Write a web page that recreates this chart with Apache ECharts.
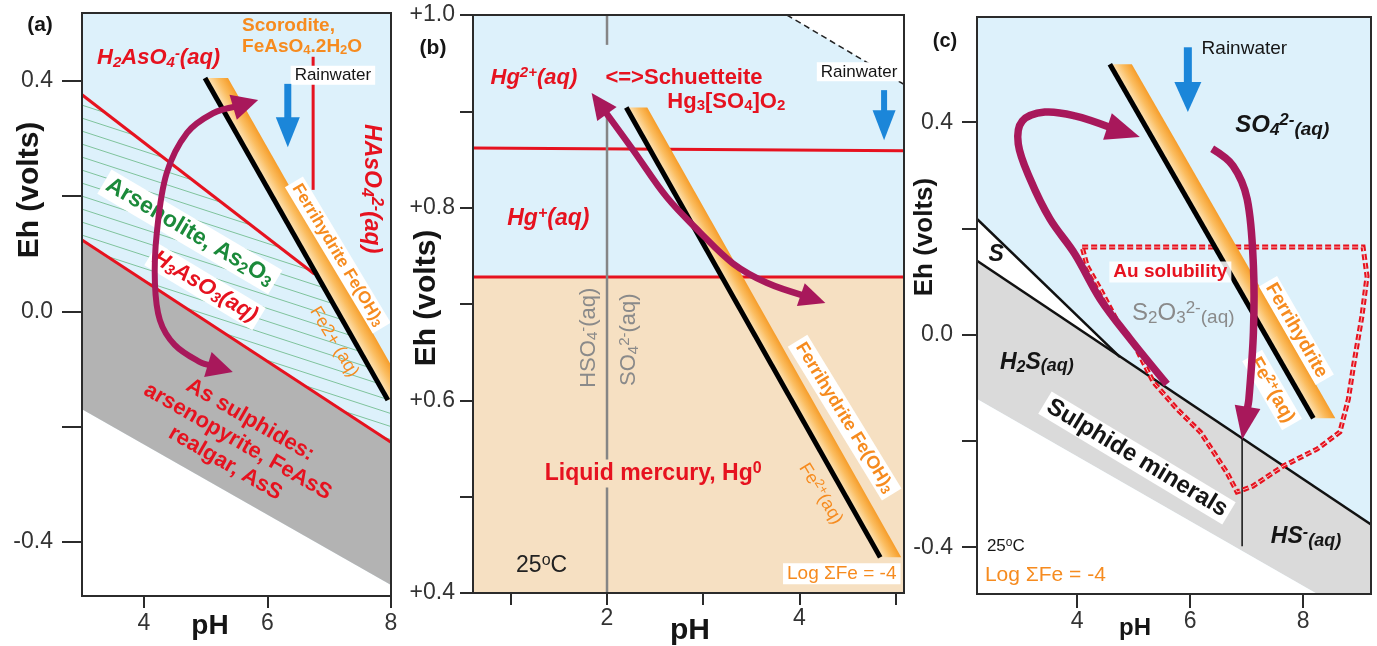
<!DOCTYPE html>
<html>
<head>
<meta charset="utf-8">
<title>Eh-pH diagrams</title>
<script src="https://cdn.jsdelivr.net/npm/echarts@6.0.0/dist/echarts.min.js"></script>
<style>
  html, body { margin: 0; padding: 0; background: #fff; }
  #chart { width: 1377px; height: 646px; }
</style>
</head>
<body>
<div id="chart"></div>
<script>
const FONT = 'Liberation Sans, Arial, sans-serif';

// ---------------- panel (a): arsenic ----------------
const aXRange = [3, 8];
const aYRange = [-0.494, 0.518];
const aXTicks = [4, 6, 8];
const aYTicks = [-0.4, -0.2, 0, 0.2, 0.4];
const aYLabels = [-0.4, 0, 0.4];
const aWhite = [[3, -0.17], [8, -0.475], [8, -0.494], [3, -0.494]];
const aGrey = [[3, 0.124], [8, -0.227], [8, -0.475], [3, -0.17]];
const aHatch = [[3, 0.376], [6.76, 0.065], [8, -0.163], [8, -0.227], [3, 0.124]];
const aRedUpper = [[3, 0.376], [6.76, 0.065]];
const aRedLower = [[3, 0.124], [8, -0.227]];
const aRedVert = [[6.74, 0.442], [6.74, 0.211]];
const aFeLine = [[4.99, 0.405], [7.95, -0.154]];
const aCycle = [[5.85, 0.367], [5.44, 0.355], [5.12, 0.344], [4.70, 0.310], [4.37, 0.240], [4.21, 0.136],
  [4.18, 0.049], [4.26, -0.015], [4.50, -0.058], [4.91, -0.088], [5.44, -0.105]];
const aRain = [[6.33, 0.395], [6.33, 0.285]];
const aLabels = [
  ['{n|H}{b|2}{n|AsO}{b|4}{p|-}{n|(aq)}', 4.24, 0.44],
  ['{n|Scorodite,}\n{n|FeAsO}{b|4}{n|.2H}{b|2}{n|O}', 5.59, 0.478],
  ['{n|Rainwater}', 7.06, 0.41],
  ['{n|HAsO}{b|4}{p|2-}{n|(aq)}', 7.69, 0.213],
  ['{n|Arsenolite, As}{b|2}{n|O}{b|3}', 4.745, 0.138],
  ['{n|H}{b|3}{n|AsO}{b|3}{n|(aq)}', 4.99, 0.043],
  ['{n|As sulphides:}\n{n|arsenopyrite, FeAsS}\n{n|realgar, AsS}', 5.52, -0.226],
  ['{n|Ferrihydrite Fe(OH)}{b|3}', 7.14, 0.098],
  ['{n|Fe2+ (aq)}', 7.08, -0.053]
];

// ---------------- panel (b): mercury ----------------
const bXRange = [0.607, 5.087];
const bYRange = [0.4, 1.0];
const bXTicks = [1, 2, 3, 4, 5];
const bXLabels = [2, 4];
const bYTicks = [0.4, 0.5, 0.6, 0.7, 0.8, 0.9, 1.0];
const bYLabels = [0.4, 0.6, 0.8, 1.0];
const bTan = [[0.607, 0.4], [5.087, 0.4], [5.087, 0.728], [0.607, 0.728]];
const bWhite = [[3.87, 1.0], [5.087, 0.928], [5.087, 1.0]];
const bO2Line = [[3.87, 1.0], [5.087, 0.928]];
const bRedUpper = [[0.607, 0.862], [5.087, 0.859]];
const bRedLower = [[0.607, 0.728], [5.087, 0.728]];
const bSulfTop = [[2, 1.0], [2, 0.969]];
const bSulfLow = [[2, 0.9], [2, 0.4]];
const bFeLine = [[2.20, 0.904], [4.84, 0.437]];
const bCycle = [[1.84, 0.919], [1.93, 0.901], [2.27, 0.860], [2.62, 0.811], [2.97, 0.774], [3.31, 0.742],
  [3.66, 0.722], [4.01, 0.707], [4.27, 0.701]];
const bRain = [[4.88, 0.922], [4.88, 0.870]];
const bLabels = [
  ['{n|Hg}{p|2+}{n|(aq)}', 1.24, 0.935],
  ['{n|<=>Schuetteite}', 2.80, 0.935],
  ['{n|Hg}{b|3}{n|[SO}{b|4}{n|]O}{b|2}', 3.24, 0.910],
  ['{n|Rainwater}', 4.62, 0.941],
  ['{n|Hg}{p|+}{n|(aq)}', 1.39, 0.789],
  ['{n|HSO}{b|4}{p|-}{n|(aq)}', 1.81, 0.665],
  ['{n|SO}{b|4}{p|2-}{n|(aq)}', 2.23, 0.663],
  ['{n|Liquid mercury, Hg}{p|0}', 2.48, 0.524],
  ['{n|25}{p|o}{n|C}', 1.32, 0.428],
  ['{n|Log ΣFe = -4}', 4.44, 0.420],
  ['{n|Ferrihydrite Fe(OH)}{b|3}', 4.47, 0.582],
  ['{n|Fe}{p|2+}{n|(aq)}', 4.22, 0.503]
];

// ---------------- panel (c): gold / sulphur ----------------
const cXRange = [2.23, 9.2];
const cYRange = [-0.488, 0.598];
const cXTicks = [4, 6, 8];
const cYTicks = [-0.4, -0.2, 0, 0.2, 0.4];
const cYLabels = [-0.4, 0, 0.4];
const cSulfur = [[2.23, 0.218], [4.76, -0.042], [2.23, 0.139]];
const cGrey = [[2.23, 0.139], [9.2, -0.357], [9.2, -0.488], [8.25, -0.488], [2.23, -0.121]];
const cWhite = [[2.23, -0.121], [8.25, -0.488], [2.23, -0.488]];
const cSLine = [[2.23, 0.218], [4.76, -0.042]];
const cH2SLine = [[2.23, 0.139], [9.2, -0.357]];
const cHSLine = [[6.92, -0.195], [6.92, -0.398]];
const cFeLine = [[4.58, 0.509], [8.18, -0.157]];
const cGold = [[4.09, 0.165], [9.06, 0.165], [9.13, 0.110], [9.04, 0.035], [8.89, -0.059], [8.80, -0.121],
  [8.65, -0.183], [8.25, -0.215], [7.65, -0.247], [7.11, -0.285], [6.83, -0.296], [6.65, -0.259],
  [6.18, -0.183], [5.77, -0.140], [5.35, -0.089], [4.99, -0.014], [4.76, 0.016], [4.41, 0.086], [4.18, 0.129]];
const cLoop = [[5.59, -0.093], [4.94, -0.008], [4.41, 0.067], [3.96, 0.152], [3.52, 0.218], [3.17, 0.293],
  [2.96, 0.359], [3.03, 0.402], [3.43, 0.419], [3.96, 0.412], [4.50, 0.391], [5.11, 0.372]];
const cDown = [[6.39, 0.350], [6.76, 0.318], [7.01, 0.255], [7.12, 0.129], [7.12, 0.005], [7.04, -0.121], [6.92, -0.197]];
const cRain = [[5.96, 0.541], [5.96, 0.419]];
const cLabels = [
  ['{n|Rainwater}', 6.96, 0.539],
  ['{n|SO}{b|4}{p|2-}{q|(aq)}', 7.63, 0.394],
  ['{n|S}', 2.57, 0.150],
  ['{n|Au solubility}', 5.65, 0.118],
  ['{n|S}{b|2}{n|O}{b|3}{p|2-}{q|(aq)}', 5.88, 0.040],
  ['{n|H}{b|2}{n|S}{q|(aq)}', 3.29, -0.052],
  ['{n|Sulphide minerals}', 5.06, -0.232],
  ['{n|HS}{p|-}{q|(aq)}', 8.05, -0.381],
  ['{n|25}{p|o}{n|C}', 2.74, -0.398],
  ['{n|Log ΣFe = -4}', 2.37, -0.453],
  ['{n|Ferrihydrite}', 7.88, 0.008],
  ['{n|Fe}{p|2+}{n|(aq)}', 7.45, -0.104]
];

// ---------------- styling ----------------
const RED = '#e6121f', ORANGE = '#f68b1f', GREEN = '#1b8a3a', MAG = '#a8185b', BLUE = '#1b86d9';
const SKY = '#ddf1fb', TAN = '#f6e0c2', GREYTXT = '#8a8a8a', INK = '#151515';
const BAND = [{offset: 0, color: '#fde8c2'}, {offset: 0.55, color: '#fbbd60'}, {offset: 1, color: '#f69d2a'}];

const aStyle = [
  {size: 22, color: RED, bold: 1, italic: 1},
  {size: 19, color: ORANGE, bold: 1, align: 'left', lh: 21},
  {size: 17, color: INK, bg: '#fff'},
  {size: 23, color: RED, bold: 1, italic: 1, rot: -90},
  {size: 23, color: GREEN, bold: 1, rot: -30.5, bg: '#fff'},
  {size: 22, color: RED, bold: 1, italic: 1, rot: -31, bg: '#fff'},
  {size: 22, color: RED, bold: 1, rot: -30, lh: 25},
  {size: 17, color: ORANGE, bold: 1, rot: -59, bg: '#fff'},
  {size: 18, color: ORANGE, rot: -59}
];
const bStyle = [
  {size: 22, color: RED, bold: 1, italic: 1},
  {size: 22, color: RED, bold: 1},
  {size: 22, color: RED, bold: 1},
  {size: 17, color: INK, bg: '#fff'},
  {size: 23, color: RED, bold: 1, italic: 1},
  {size: 22, color: GREYTXT, rot: 90},
  {size: 22, color: GREYTXT, rot: 90},
  {size: 23, color: RED, bold: 1, bg: TAN},
  {size: 23, color: '#222'},
  {size: 19, color: ORANGE, bg: '#fff'},
  {size: 18, color: ORANGE, bold: 1, rot: -58.5, bg: '#fff'},
  {size: 18, color: ORANGE, rot: -58.5}
];
const cStyle = [
  {size: 19, color: INK},
  {size: 24, color: INK, bold: 1, italic: 1},
  {size: 23, color: INK, bold: 1, italic: 1},
  {size: 19, color: RED, bold: 1, bg: 'rgba(255,255,255,0.85)'},
  {size: 24, color: GREYTXT},
  {size: 23, color: INK, bold: 1, italic: 1},
  {size: 24, color: INK, bold: 1, rot: -31, bg: '#fff'},
  {size: 23, color: INK, bold: 1, italic: 1},
  {size: 17, color: INK},
  {size: 21, color: ORANGE, align: 'left'},
  {size: 19, color: ORANGE, bold: 1, rot: -60, bg: '#fff'},
  {size: 19, color: ORANGE, bold: 1, rot: -60, bg: '#fff'}
];

// green hatch tile for the arsenolite field
const hatch = (function () {
  const c = document.createElement('canvas');
  c.width = 80; c.height = 13;
  const g = c.getContext('2d');
  g.strokeStyle = '#7fc39c';
  g.lineWidth = 1;
  for (let k = -2; k <= 1; k++) {
    g.beginPath(); g.moveTo(0, k * 13 + 0.5); g.lineTo(80, k * 13 + 26.5); g.stroke();
  }
  return c;
})();

// ---------------- drawing helpers ----------------
function rectOf(xr, yr) { return [[xr[0], yr[0]], [xr[1], yr[0]], [xr[1], yr[1]], [xr[0], yr[1]]]; }
function poly(api, pts, style) {
  return {type: 'polygon', shape: {points: pts.map(p => api.coord(p))}, style: style};
}
function line(api, pts, color, w, dash) {
  return {type: 'polyline', shape: {points: pts.map(p => api.coord(p))},
    style: {stroke: color, lineWidth: w, fill: null, lineDash: dash || null}};
}
function band(api, seg, w) {
  const p0 = api.coord(seg[0]), p1 = api.coord(seg[1]);
  const dx = p1[0] - p0[0], dy = p1[1] - p0[1], L = Math.hypot(dx, dy);
  const nx = dy / L, ny = -dx / L, d = w * dy / L;
  const grad = new echarts.graphic.LinearGradient(p0[0], p0[1], p0[0] + nx * d, p0[1] + ny * d, BAND, true);
  return [
    {type: 'polygon', shape: {points: [p0, [p0[0] + w, p0[1]], [p1[0] + w, p1[1]], p1]}, style: {fill: grad}},
    {type: 'line', shape: {x1: p0[0], y1: p0[1], x2: p1[0], y2: p1[1]}, style: {stroke: '#000', lineWidth: 5}}
  ];
}
function headAt(P, len, half) {
  const tip = P[P.length - 1];
  let i = P.length - 2;
  while (i > 0 && Math.hypot(P[i][0] - tip[0], P[i][1] - tip[1]) < len * 1.2) i--;
  const ref = P[i];
  const dx = tip[0] - ref[0], dy = tip[1] - ref[1], d = Math.hypot(dx, dy);
  const ux = dx / d, uy = dy / d;
  const bx = tip[0] - ux * len, by = tip[1] - uy * len;
  return {
    pts: P.slice(0, i + 1).concat([[bx + ux * 3, by + uy * 3]]),
    head: {type: 'polygon', shape: {points: [tip, [bx - uy * half, by + ux * half], [bx + uy * half, by - ux * half]]},
      style: {fill: MAG}}
  };
}
function curveArrow(api, data, o) {
  let P = data.map(p => api.coord(p));
  const out = [];
  if (o.end) { const r = headAt(P, o.len, o.half); P = r.pts; out.push(r.head); }
  if (o.start) { const r = headAt(P.slice().reverse(), o.len, o.half); P = r.pts.reverse(); out.push(r.head); }
  out.unshift({type: 'polyline', shape: {points: P, smooth: 0.35},
    style: {stroke: MAG, lineWidth: o.w, fill: null, lineCap: 'butt'}});
  return out;
}
function rainArrow(api, seg, shaft, headW, headL) {
  const a = api.coord(seg[0]), b = api.coord(seg[1]);
  const x = a[0];
  return [
    {type: 'rect', shape: {x: x - shaft / 2, y: a[1], width: shaft, height: b[1] - headL - a[1] + 1}, style: {fill: BLUE}},
    {type: 'polygon', shape: {points: [[x - headW / 2, b[1] - headL], [x + headW / 2, b[1] - headL], [x, b[1]]]},
      style: {fill: BLUE}}
  ];
}
function richFor(s) {
  const base = {fontFamily: FONT, fontWeight: s.bold ? 'bold' : 'normal', fontStyle: s.italic ? 'italic' : 'normal', fill: s.color};
  const sm = Math.round(s.size * 0.7), sh = Math.round(s.size * 0.42);
  const n = Object.assign({fontSize: s.size}, base);
  if (s.lh) n.lineHeight = s.lh;
  return {
    n: n,
    b: Object.assign({fontSize: sm, padding: [sh, 0, 0, 0]}, base),
    p: Object.assign({fontSize: sm, padding: [0, 0, sh, 0]}, base),
    q: Object.assign({fontSize: Math.round(s.size * 0.8), padding: [Math.round(s.size * 0.32), 0, 0, 0]}, base)
  };
}
function labels(api, list, styles) {
  return list.map((lab, i) => {
    const s = styles[i];
    const p = api.coord([lab[1], lab[2]]);
    const st = {text: lab[0], rich: richFor(s), align: s.align || 'center', verticalAlign: 'middle',
      textAlign: s.align || 'center', textVerticalAlign: 'middle'};
    if (s.bg) { st.backgroundColor = s.bg; st.padding = [1, 4, 1, 4]; }
    return {type: 'text', x: p[0], y: p[1], rotation: (s.rot || 0) * Math.PI / 180, style: st};
  });
}

// ---------------- panels ----------------
function renderA(params, api) {
  let k = [];
  k.push(poly(api, rectOf(aXRange, aYRange), {fill: SKY}));
  k.push(poly(api, aHatch, {fill: {image: hatch, repeat: 'repeat'}}));
  k.push(poly(api, aWhite, {fill: '#fff'}));
  k.push(poly(api, aGrey, {fill: '#b3b3b3'}));
  k.push(line(api, aRedUpper, RED, 3));
  k.push(line(api, aRedLower, RED, 3));
  k.push(line(api, aRedVert, RED, 3));
  k = k.concat(band(api, aFeLine, 23));
  k = k.concat(labels(api, aLabels, aStyle));
  k = k.concat(curveArrow(api, aCycle, {start: true, end: true, len: 26, half: 13, w: 6}));
  k = k.concat(rainArrow(api, aRain, 7, 24, 30));
  return {type: 'group', children: k};
}
function renderB(params, api) {
  let k = [];
  k.push(poly(api, rectOf(bXRange, bYRange), {fill: SKY}));
  k.push(poly(api, bTan, {fill: TAN}));
  k.push(poly(api, bWhite, {fill: '#fff'}));
  k.push(line(api, bO2Line, '#222', 1.5, [6, 4]));
  k.push(line(api, bRedUpper, RED, 3));
  k.push(line(api, bRedLower, RED, 3));
  k.push(line(api, bSulfTop, '#858585', 2.5));
  k.push(line(api, bSulfLow, '#858585', 2.5));
  k = k.concat(band(api, bFeLine, 21));
  k = k.concat(labels(api, bLabels, bStyle));
  k = k.concat(curveArrow(api, bCycle, {start: true, end: true, len: 26, half: 12, w: 6.5}));
  k = k.concat(rainArrow(api, bRain, 6, 23, 30));
  return {type: 'group', children: k};
}
function renderC(params, api) {
  let k = [];
  k.push(poly(api, rectOf(cXRange, cYRange), {fill: SKY}));
  k.push(poly(api, cSulfur, {fill: '#fff'}));
  k.push(poly(api, cGrey, {fill: '#dadada'}));
  k.push(poly(api, cWhite, {fill: '#fff'}));
  k.push(line(api, cSLine, '#111', 2.5));
  k.push(line(api, cH2SLine, '#111', 2.5));
  k.push(line(api, cHSLine, '#111', 1.5));
  const gold = cGold.map(p => api.coord(p));
  k.push({type: 'polygon', shape: {points: gold}, style: {fill: null, stroke: RED, lineWidth: 5, lineDash: [6, 3]}});
  k.push({type: 'polygon', shape: {points: gold}, style: {fill: null, stroke: '#f7b5b5', lineWidth: 1, lineDash: [6, 3]}});
  k = k.concat(band(api, cFeLine, 22));
  k = k.concat(labels(api, cLabels, cStyle));
  k = k.concat(curveArrow(api, cLoop, {end: true, len: 34, half: 14, w: 7.5}));
  k = k.concat(curveArrow(api, cDown, {end: true, len: 33, half: 13, w: 7.5}));
  k = k.concat(rainArrow(api, cRain, 8, 27, 30));
  return {type: 'group', children: k};
}

// ---------------- axes ----------------
function xAxisOf(g, range, ticks, labs, tickLen, margin) {
  return {
    gridIndex: g, type: 'value', min: range[0], max: range[1],
    axisLine: {show: false, onZero: false},
    splitLine: {show: false},
    axisTick: {show: true, inside: false, length: tickLen, customValues: ticks, lineStyle: {color: '#2b2b2b', width: 2}},
    axisLabel: {show: true, customValues: labs, margin: margin, color: '#333', fontSize: 23, fontFamily: FONT,
      formatter: v => String(v)}
  };
}
function yAxisOf(g, range, ticks, labs, tickLen, margin, fmt) {
  return {
    gridIndex: g, type: 'value', min: range[0], max: range[1],
    axisLine: {show: false, onZero: false},
    splitLine: {show: false},
    axisTick: {show: true, inside: false, length: tickLen, customValues: ticks, lineStyle: {color: '#2b2b2b', width: 2}},
    axisLabel: {show: true, customValues: labs, margin: margin, color: '#333', fontSize: 23, fontFamily: FONT,
      formatter: fmt}
  };
}
function frame(left, top, width, height) {
  return {left: left, top: top, width: width, height: height, show: true, z: 5, outerBoundsMode: 'none',
    backgroundColor: 'transparent', borderColor: '#2b2b2b', borderWidth: 2};
}
function gtext(t, x, y, size, rot) {
  return {type: 'text', x: x, y: y, rotation: rot || 0, silent: true,
    style: {text: t, font: 'bold ' + size + 'px ' + FONT, fill: INK,
      align: 'center', verticalAlign: 'middle', textAlign: 'center', textVerticalAlign: 'middle'}};
}

const chart = echarts.init(document.getElementById('chart'));
chart.setOption({
  animation: false,
  textStyle: {fontFamily: FONT},
  grid: [frame(82, 13, 309, 583), frame(473, 15, 431, 578), frame(977, 17, 394, 577)],
  xAxis: [
    xAxisOf(0, aXRange, aXTicks, aXTicks, 12, 16),
    xAxisOf(1, bXRange, bXTicks, bXLabels, 12, 14),
    xAxisOf(2, cXRange, cXTicks, cXTicks, 14, 16)
  ],
  yAxis: [
    yAxisOf(0, aYRange, aYTicks, aYLabels, 20, 29, v => v.toFixed(1)),
    yAxisOf(1, bYRange, bYTicks, bYLabels, 13, 18, v => '+' + v.toFixed(1)),
    yAxisOf(2, cYRange, cYTicks, cYLabels, 15, 24, v => v.toFixed(1))
  ],
  series: [
    {type: 'custom', xAxisIndex: 0, yAxisIndex: 0, clip: true, silent: true,
      data: [[aXRange[0], aYRange[0]]], renderItem: renderA},
    {type: 'custom', xAxisIndex: 1, yAxisIndex: 1, clip: true, silent: true,
      data: [[bXRange[0], bYRange[0]]], renderItem: renderB},
    {type: 'custom', xAxisIndex: 2, yAxisIndex: 2, clip: true, silent: true,
      data: [[cXRange[0], cYRange[0]]], renderItem: renderC}
  ],
  graphic: [
    gtext('(a)', 40, 25, 21), gtext('(b)', 433, 48, 21), gtext('(c)', 945, 41, 20),
    gtext('pH', 210, 626, 28), gtext('pH', 690, 631, 30), gtext('pH', 1135, 628, 24),
    gtext('Eh (volts)', 30, 190, 30, Math.PI / 2),
    gtext('Eh (volts)', 427, 298, 30, Math.PI / 2),
    gtext('Eh (volts)', 925, 237, 26, Math.PI / 2)
  ]
});
</script>
</body>
</html>
